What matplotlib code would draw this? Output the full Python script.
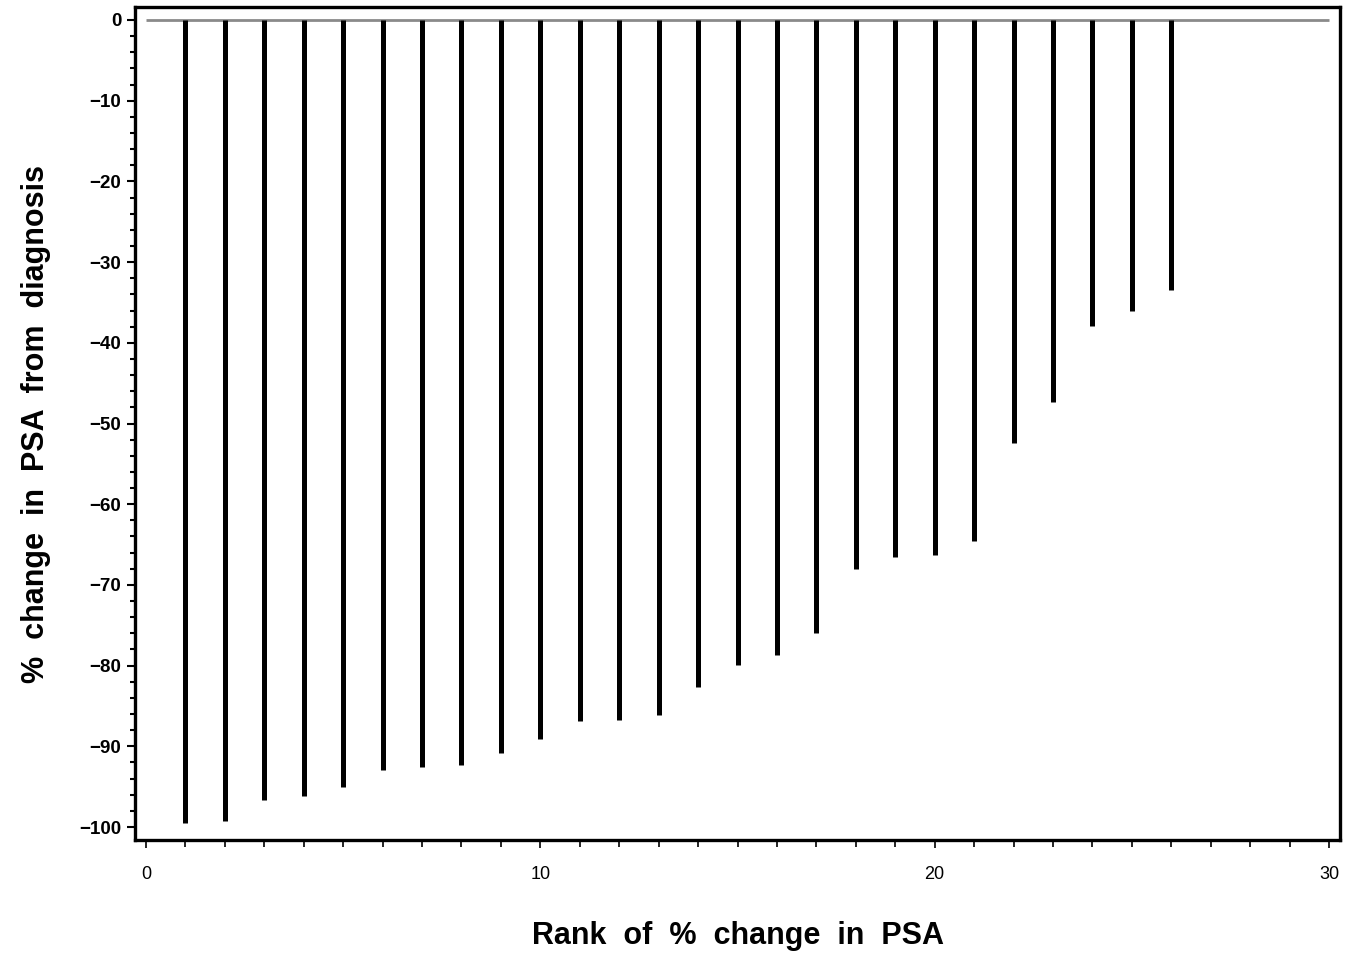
import matplotlib
matplotlib.use("Agg")
import matplotlib.pyplot as plt
from matplotlib.ticker import MultipleLocator, FixedLocator

ranks = list(range(1, 27))
pct_change = [-99.5, -99.3, -96.7, -96.2, -95.0, -92.9, -92.5, -92.3, -90.8, -89.1,
              -86.9, -86.7, -86.1, -82.7, -79.9, -78.7, -75.9, -68.0, -66.5, -66.3,
              -64.6, -52.4, -47.3, -37.9, -36.0, -33.5]
x_major_ticks = [0, 10, 20, 30]
y_major_ticks = [0, -10, -20, -30, -40, -50, -60, -70, -80, -90, -100]

plt.rcParams['font.family'] = ['Liberation Sans', 'DejaVu Sans']
fig = plt.figure(figsize=(13.6, 9.56), dpi=100)
ax = fig.add_axes([0.0993, 0.1213, 0.886, 0.8714])

ax.hlines(0, 0, 30, color='#8a8a8a', linewidth=2.0, zorder=2)
ax.vlines(ranks, 0, pct_change, color='black', linewidth=3.6, zorder=3)

ax.set_xlim(-0.279, 30.28)
ax.set_ylim(-101.61, 1.61)

ax.xaxis.set_major_locator(FixedLocator(x_major_ticks))
ax.xaxis.set_minor_locator(MultipleLocator(1))
ax.yaxis.set_major_locator(FixedLocator(y_major_ticks))
ax.yaxis.set_minor_locator(MultipleLocator(2))

ax.set_yticklabels(['0'] + ['\u2212' + str(-v) for v in y_major_ticks[1:]])
for lbl in ax.get_yticklabels():
    lbl.set_fontweight('bold')

for s in ax.spines.values():
    s.set_linewidth(2.4)
    s.set_color('black')

ax.tick_params(axis='y', which='major', direction='out', length=6, width=1.5, labelsize=13.5, pad=4)
ax.tick_params(axis='y', which='minor', direction='out', length=3.5, width=1.5)
ax.tick_params(axis='x', which='major', direction='out', length=6, width=1.2, labelsize=13, pad=13)
ax.tick_params(axis='x', which='minor', direction='out', length=5, width=1.2)

ax.set_xlabel('Rank  of  %  change  in  PSA', fontsize=22, fontweight='bold', labelpad=27)
ax.set_ylabel('%  change  in  PSA  from  diagnosis', fontsize=22, fontweight='bold', labelpad=20)

fig.savefig('out.png', dpi=100)
